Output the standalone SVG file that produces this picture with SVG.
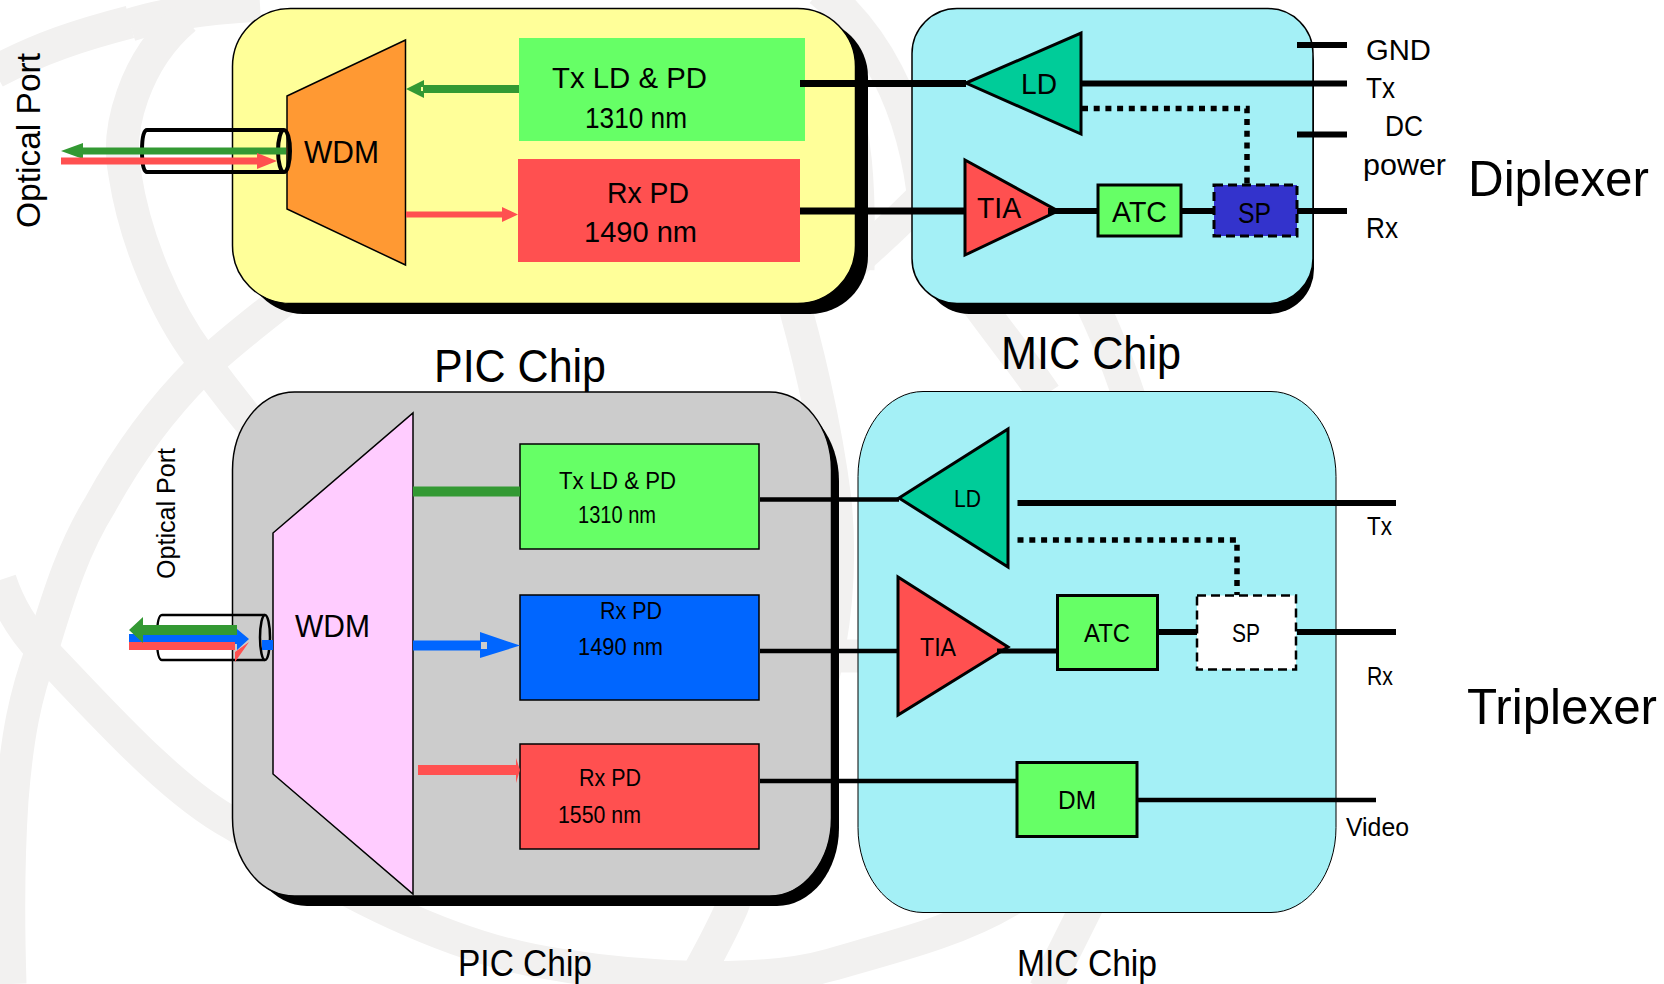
<svg xmlns="http://www.w3.org/2000/svg" width="1664" height="984" viewBox="0 0 1664 984">
<style>
text{font-family:"Liberation Sans",Arial,sans-serif;fill:#000}
.wm{fill:none;stroke:#f2f1f0;stroke-width:33}
.blk{fill:#000}
.ln{fill:none;stroke:#000}
.o{stroke:#000;stroke-width:1.5}
.s{stroke:#000;stroke-width:3}
</style>
<rect width="1664" height="984" fill="#fff"/>
<g id="watermark">
<path class="wm" d="M-5 72C40 48 80 35 130 22"/>
<path class="wm" d="M130 25C160 15 210 8 260 5"/>
<path class="wm" d="M185 18C135 60 115 130 125 175C135 240 165 310 200 357C235 405 280 460 320 500"/>
<path class="wm" d="M290 295C265 315 225 345 200 370C165 405 130 450 100 505C75 545 60 590 42 650C25 695 17 737 12 800C8 860 8 920 10 984"/>
<path class="wm" d="M0 580C10 610 25 632 42 650C100 710 170 790 233 824C340 890 450 950 560 965C640 978 760 985 830 965C900 945 960 930 1010 900C1100 850 1200 780 1280 700"/>
<path class="wm" d="M790 290C805 340 825 420 835 500C845 600 825 700 790 770C765 830 745 870 732 907C720 935 705 960 690 990"/>
<path class="wm" d="M835 656H860"/>
<path class="wm" d="M975 300C1000 335 1025 365 1045 395"/>
<path class="wm" d="M1090 300Q1110 340 1130 400"/>
<path class="wm" d="M1090 900L1045 990"/>
<path class="wm" d="M820 -10C870 30 915 100 925 210"/>
<path class="wm" d="M930 190C905 215 880 240 850 265"/>
<path class="wm" d="M840 90C855 130 860 180 858 270"/>
</g>
<g id="pic-top">
<rect class="blk" x="245" y="19" width="623" height="295" rx="58"/>
<rect x="232.500" y="8.500" width="623" height="295" rx="58" fill="#ffff99" stroke="#000" stroke-width="1.500"/>
</g>
<g id="mic-top">
<rect class="blk" x="924" y="19" width="390" height="295" rx="45"/>
<rect x="912" y="8.500" width="401" height="295" rx="45" fill="#a4f0f6" stroke="#000" stroke-width="1.500"/>
</g>
<g id="pic-bottom">
<rect class="blk" x="245" y="403" width="594" height="503" rx="62" ry="78"/>
<rect x="232.500" y="392" width="599" height="504" rx="62" ry="78" fill="#cccccc" stroke="#000" stroke-width="1.500"/>
</g>
<g id="mic-bottom">
<rect x="858" y="391.500" width="478" height="521" rx="65" ry="85" fill="#a4f0f6" stroke="#000" stroke-width="1"/>
</g>
<g id="wdm-top">
<polygon class="o" points="287,96 405.500,40 405.500,265 287,209" fill="#ff9933"/>
<text x="304" y="163" font-size="31" textLength="75" lengthAdjust="spacingAndGlyphs">WDM</text>
</g>
<g id="txpd-top">
<rect x="519" y="38" width="286" height="103" fill="#66ff66"/>
<text x="552" y="88" font-size="30" textLength="155" lengthAdjust="spacingAndGlyphs">Tx LD &amp; PD</text>
<text x="585" y="127.500" font-size="30" textLength="102" lengthAdjust="spacingAndGlyphs">1310 nm</text>
</g>
<g id="rxpd-top">
<rect x="518" y="159" width="282" height="103" fill="#ff5050"/>
<text x="607" y="203" font-size="30" textLength="82" lengthAdjust="spacingAndGlyphs">Rx PD</text>
<text x="584" y="242" font-size="30" textLength="113" lengthAdjust="spacingAndGlyphs">1490 nm</text>
</g>
<g id="ld-top">
<polygon class="s" points="966,83 1081,33 1081,134" fill="#00cc99"/>
<text x="1021" y="94" font-size="30" textLength="36" lengthAdjust="spacingAndGlyphs">LD</text>
</g>
<g id="tia-top">
<polygon class="s" points="965,160 1058,211 965,255" fill="#ff5050"/>
<text x="977" y="218" font-size="30" textLength="44" lengthAdjust="spacingAndGlyphs">TIA</text>
</g>
<g id="atc-top">
<rect class="s" x="1098" y="185" width="83" height="51" fill="#66ff66"/>
<text x="1112" y="222" font-size="30" textLength="55" lengthAdjust="spacingAndGlyphs">ATC</text>
</g>
<g id="sp-top">
<rect x="1214" y="185" width="83" height="51" fill="#3333cc" stroke="#000" stroke-width="3" stroke-dasharray="9 5"/>
<text x="1238" y="223" font-size="30" textLength="33" lengthAdjust="spacingAndGlyphs">SP</text>
</g>
<g id="wdm-bottom">
<polygon class="o" points="273,533 413,413 413,894 273,774" fill="#ffccff"/>
<text x="295" y="637" font-size="31" textLength="75" lengthAdjust="spacingAndGlyphs">WDM</text>
</g>
<g id="txpd-bottom">
<rect class="o" x="520" y="444" width="239" height="105" fill="#66ff66"/>
<text x="559" y="489" font-size="23" textLength="117" lengthAdjust="spacingAndGlyphs">Tx LD &amp; PD</text>
<text x="578" y="523" font-size="23" textLength="78" lengthAdjust="spacingAndGlyphs">1310 nm</text>
</g>
<g id="rxpd-bottom-1490">
<rect class="o" x="520" y="595" width="239" height="105" fill="#0066ff"/>
<text x="600" y="619" font-size="23" textLength="62" lengthAdjust="spacingAndGlyphs">Rx PD</text>
<text x="578" y="655" font-size="23" textLength="85" lengthAdjust="spacingAndGlyphs">1490 nm</text>
</g>
<g id="rxpd-bottom-1550">
<rect class="o" x="520" y="744" width="239" height="105" fill="#ff5050"/>
<text x="579" y="786" font-size="23" textLength="62" lengthAdjust="spacingAndGlyphs">Rx PD</text>
<text x="558" y="823" font-size="23" textLength="83" lengthAdjust="spacingAndGlyphs">1550 nm</text>
</g>
<g id="ld-bottom">
<polygon class="s" points="899,498 1008,429 1008,567" fill="#00cc99"/>
<text x="954" y="507" font-size="24" textLength="27" lengthAdjust="spacingAndGlyphs">LD</text>
</g>
<g id="tia-bottom">
<polygon class="s" points="898,577 1008,647 898,715" fill="#ff5050"/>
<text x="920" y="656" font-size="25" textLength="36" lengthAdjust="spacingAndGlyphs">TIA</text>
</g>
<g id="atc-bottom">
<rect class="s" x="1057.500" y="595.500" width="100" height="74" fill="#66ff66"/>
<text x="1084" y="642" font-size="25" textLength="46" lengthAdjust="spacingAndGlyphs">ATC</text>
</g>
<g id="sp-bottom">
<rect x="1197" y="595.500" width="99" height="74" fill="#fff" stroke="#000" stroke-width="2.500" stroke-dasharray="9 5"/>
<text x="1232" y="642" font-size="25" textLength="28" lengthAdjust="spacingAndGlyphs">SP</text>
</g>
<g id="dm-bottom">
<rect class="s" x="1017" y="762.500" width="120" height="74" fill="#66ff66"/>
<text x="1058" y="809" font-size="25" textLength="38" lengthAdjust="spacingAndGlyphs">DM</text>
</g>
<g id="connectors">
<g id="port-top">
<path class="ln" stroke-width="4" d="M284 130H147Q142 130 142 151Q142 172 147 172H284"/>
<ellipse cx="284" cy="151" rx="6" ry="21" fill="none" stroke="#000" stroke-width="4"/>
</g>
<path fill="#339933" d="M61 151 83 143V147.500H286V154.500H83V159Z"/>
<path fill="#ff5050" d="M61 157.500H257V153L277 161 257 169V164.500H61Z"/>
<path fill="#339933" d="M406 89 424 80V85H519V93H424V98Z"/>
<path fill="#ffff99" d="M421 87H423V91H421Z"/>
<path fill="#ff5050" d="M406 211.500H502V207L518 214.500 502 222V217.500H406Z"/>
<path class="ln" stroke-width="7" d="M800 83.500H966M800 211H965"/>
<path class="ln" stroke-width="6" d="M1081 83.500H1347M1048 211H1098M1181 211H1214M1297 211H1347M1297 45H1347M1297 134.500H1347"/>
<path class="ln" stroke-width="5.500" stroke-dasharray="6 5.700" d="M1082 108.500H1247V185"/>
<path class="ln" stroke-width="4.500" d="M760 499.500H899M760 651H898M760 781H1017M1137 800H1376"/>
<path class="ln" stroke-width="5" d="M997 651H1058"/>
<path class="ln" stroke-width="6" d="M1017.500 503H1396M1297 632H1396M1157 632H1197"/>
<path class="ln" stroke-width="5.500" stroke-dasharray="6 5.800" d="M1017.500 540H1237V595"/>
<path fill="#339933" d="M413 486.500H520V496.500H413Z"/>
<path fill="#0066ff" d="M413 640.500H480V632L520 645.500 480 658V650.500H413Z"/>
<path fill="#cccccc" d="M481 642H487V649H481Z"/>
<path fill="#ff5050" d="M418 765H516V758L520 770 516 783V775H418Z"/>
<g id="port-bottom">
<path class="ln" stroke-width="2.500" d="M265 615H162Q157 615 157 638Q157 660 162 660H265"/>
<ellipse cx="265" cy="637.500" rx="5" ry="22.500" fill="none" stroke="#000" stroke-width="2.500"/>
</g>
<path fill="#0066ff" d="M129 634H237V629L249 639 237 650V644H129Z"/>
<path fill="#0066ff" d="M262 640H273V650H262Z"/>
<path fill="#ff5050" d="M129 642H235V652L249 642 235 662V650H129Z"/>
<path fill="#339933" d="M129 630 143 617V625H237V635H143V643Z"/>
</g>
<g id="labels">
<text transform="translate(40,228) rotate(-90)" font-size="34" textLength="175" lengthAdjust="spacingAndGlyphs">Optical Port</text>
<text transform="translate(175,579) rotate(-90)" font-size="25" textLength="131" lengthAdjust="spacingAndGlyphs">Optical Port</text>
<text x="1366" y="60" font-size="29.500" textLength="65" lengthAdjust="spacingAndGlyphs">GND</text>
<text x="1366" y="98" font-size="29.500" textLength="29" lengthAdjust="spacingAndGlyphs">Tx</text>
<text x="1385" y="136" font-size="29.500" textLength="38" lengthAdjust="spacingAndGlyphs">DC</text>
<text x="1363" y="175" font-size="29.500" textLength="83" lengthAdjust="spacingAndGlyphs">power</text>
<text x="1366" y="238" font-size="29.500" textLength="32" lengthAdjust="spacingAndGlyphs">Rx</text>
<text x="1468" y="196" font-size="50" textLength="181" lengthAdjust="spacingAndGlyphs">Diplexer</text>
<text x="1467" y="724" font-size="50" textLength="190" lengthAdjust="spacingAndGlyphs">Triplexer</text>
<text x="434" y="382" font-size="47" textLength="172" lengthAdjust="spacingAndGlyphs">PIC Chip</text>
<text x="1001" y="369" font-size="47" textLength="180" lengthAdjust="spacingAndGlyphs">MIC Chip</text>
<text x="458" y="976" font-size="36" textLength="134" lengthAdjust="spacingAndGlyphs">PIC Chip</text>
<text x="1017" y="976" font-size="36" textLength="140" lengthAdjust="spacingAndGlyphs">MIC Chip</text>
<text x="1367" y="535" font-size="25" textLength="25" lengthAdjust="spacingAndGlyphs">Tx</text>
<text x="1367" y="685" font-size="25" textLength="26" lengthAdjust="spacingAndGlyphs">Rx</text>
<text x="1346" y="836" font-size="25" textLength="63" lengthAdjust="spacingAndGlyphs">Video</text>
</g>
</svg>
